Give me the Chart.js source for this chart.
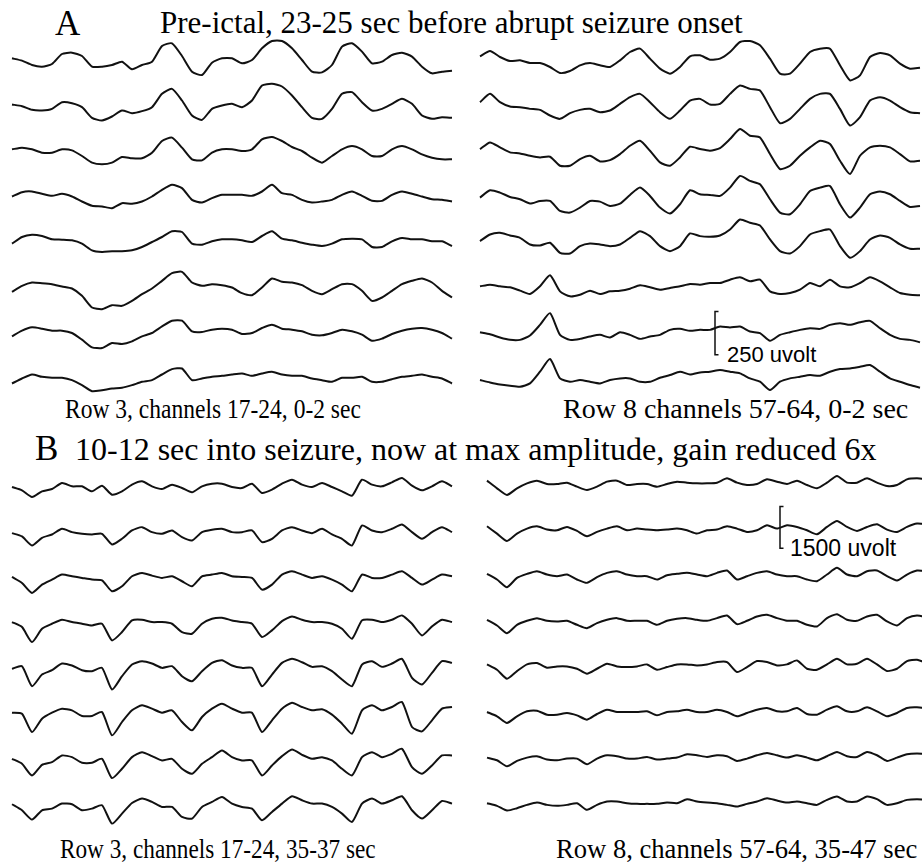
<!DOCTYPE html>
<html>
<head>
<meta charset="utf-8">
<script src="https://cdn.jsdelivr.net/npm/chart.js@4/dist/chart.umd.min.js"></script>
<style>
body { margin: 0; width: 922px; height: 865px; background: #fff; position: relative; overflow: hidden; }
canvas { position: absolute; }
.t { position: absolute; white-space: nowrap; color: #000; font-family: "Liberation Serif", "Times New Roman", serif; line-height: 1; transform-origin: 0 0; }
.s { position: absolute; white-space: nowrap; color: #000; font-family: "Liberation Sans", Arial, sans-serif; line-height: 1; }
</style>
</head>
<body>
<div class="t" style="left:55px;top:6px;font-size:35px">A</div>
<div class="t" style="left:160px;top:7px;font-size:31px">Pre-ictal, 23-25 sec before abrupt seizure onset</div>
<div class="t" style="left:65px;top:395px;font-size:28px;transform:scaleX(0.84)">Row 3, channels 17-24, 0-2 sec</div>
<div class="t" style="left:563px;top:395px;font-size:28px">Row 8 channels 57-64, 0-2 sec</div>
<div class="t" style="left:35px;top:431px;font-size:35px">B</div>
<div class="t" style="left:75px;top:433px;font-size:32px">10-12 sec into seizure, now at max amplitude, gain reduced 6x</div>
<div class="t" style="left:60px;top:835px;font-size:28px;transform:scaleX(0.83)">Row 3, channels 17-24, 35-37 sec</div>
<div class="t" style="left:556px;top:835px;font-size:28px;transform:scaleX(0.95)">Row 8, channels 57-64, 35-47 sec</div>
<div class="s" style="left:727px;top:344px;font-size:22px">250 uvolt</div>
<div class="s" style="left:790px;top:537px;font-size:23px">1500 uvolt</div>

<canvas id="aLeft"></canvas>
<canvas id="aRight"></canvas>
<canvas id="bLeft"></canvas>
<canvas id="bRight"></canvas>

<script>
// 45 samples per trace, deflection up is positive (1 unit = 1/3 px of the figure)
var channelsRow3 = ["17", "18", "19", "20", "21", "22", "23", "24"];
var channelsRow8 = ["57", "58", "59", "60", "61", "62", "63", "64"];

// A: pre-ictal, 0-2 sec
var preRow3 = [
    [5,-2,-15,-20,-12,18,22,12,-20,-20,-15,-5,-28,-15,-5,42,50,12,-35,-45,-8,5,5,-10,0,35,57,57,35,0,-35,-37,-15,40,50,25,-10,-5,15,22,10,-20,-40,-35,-32],
    [3,-2,-13,-15,-10,10,7,-5,-37,-45,-33,-15,-23,-17,-5,35,50,15,-30,-43,-10,0,5,-5,15,60,65,57,30,-5,-37,-40,-10,35,40,10,-15,-10,5,20,5,-30,-40,-35,-37],
    [5,10,5,-5,-5,5,2,-15,-35,-40,-35,-18,-22,-22,-5,30,40,10,-25,-28,-5,5,5,0,5,35,42,30,12,0,-20,-35,-15,5,15,5,-15,-15,5,15,5,-10,-20,-25,-25],
    [0,13,15,8,2,8,0,-15,-28,-30,-35,-20,-22,-15,0,20,35,25,-10,-18,-5,5,5,5,2,15,35,10,5,-10,-18,-15,-10,5,15,2,-13,-13,5,15,8,0,-8,-10,-15],
    [-5,15,22,18,8,7,5,-5,-25,-30,-28,-28,-25,-15,0,15,32,30,-5,-8,2,8,8,5,0,18,32,10,5,-2,-8,-12,-5,8,10,8,-15,-15,2,12,8,8,2,2,-12],
    [-13,5,15,13,10,3,-3,-25,-60,-65,-53,-55,-40,-20,-3,20,43,47,15,5,10,7,0,-17,-23,0,27,17,15,7,-10,-20,-5,10,10,-10,-40,-30,-10,10,20,27,15,-10,-30],
    [-10,7,17,13,7,7,0,-20,-43,-45,-30,-33,-25,-10,0,20,37,37,5,3,10,13,10,-3,0,15,25,13,10,5,-5,-7,0,10,5,-5,-23,-17,-3,7,13,15,10,0,-17],
    [-15,0,12,5,2,2,-5,-20,-38,-35,-30,-28,-20,-10,-5,12,28,30,-5,0,5,8,12,15,8,15,20,12,8,8,0,-5,-10,2,2,5,-10,-10,-2,5,8,12,5,0,-15]
];
var preRow8 = [
    [17,33,15,3,5,-3,-3,-15,-33,-27,-10,-3,-10,-15,5,30,40,10,-20,-35,-15,17,20,7,10,30,60,63,50,10,-35,-35,-5,30,40,40,-10,-55,-40,15,27,20,-5,-20,-17],
    [15,40,15,2,0,-5,-8,-25,-35,-18,-8,-5,-15,-10,10,30,40,15,-15,-35,-10,20,25,8,10,40,65,55,50,0,-48,-35,-5,25,40,40,-5,-55,-30,20,30,20,0,-15,-18],
    [10,30,15,0,-3,-10,-15,-13,-40,-40,-20,-10,-27,-23,-5,20,35,5,-30,-40,-15,17,10,5,13,40,70,50,45,-5,-50,-40,-10,15,35,25,-25,-65,-10,15,20,15,-5,-27,-25],
    [0,22,15,2,-5,-18,-10,-10,-40,-45,-30,-10,-12,-25,-18,8,30,5,-30,-48,-20,22,10,8,5,30,65,50,40,-5,-45,-50,-20,20,30,35,-20,-60,-30,10,18,10,-10,-28,-25],
    [5,25,30,22,15,-5,-8,0,-30,-32,-10,-2,-5,-10,-5,15,35,20,-10,-25,-10,28,20,18,22,40,70,60,52,10,-25,-32,-10,25,35,40,-10,-45,-25,10,22,15,-5,-18,-18],
    [5,10,5,2,-8,-18,5,38,-10,-25,-20,-8,-18,-10,-8,-2,8,2,-5,0,5,12,10,15,15,25,32,20,25,-10,-18,-15,-5,15,5,25,5,2,15,32,20,2,-15,-20,-22],
    [3,-3,-13,-20,-20,-7,25,60,-5,-20,-17,-10,-5,-13,3,-5,-17,-10,-5,10,13,7,10,10,20,17,20,5,0,-23,-5,3,10,15,13,25,30,25,33,37,15,-5,-17,-20,-27],
    [-5,-12,-18,-22,-25,-15,20,58,0,-10,-5,-10,-15,-5,0,0,-10,-10,2,10,20,12,18,20,25,20,15,0,-10,-35,-10,0,5,10,8,20,28,30,35,40,20,0,-10,-20,-28]
];

// B: 10-12 sec into seizure, gain reduced 6x
var ictalRow3 = [
    [3,-7,-27,-10,-3,15,5,5,-10,7,-20,-10,10,20,5,-3,10,0,-13,5,13,13,3,0,13,-15,-5,13,25,10,3,15,3,-10,-23,25,10,5,17,30,7,-7,5,20,5],
    [2,-8,-35,-12,-2,15,5,0,-2,0,-32,-15,10,20,5,0,10,-10,-20,5,12,15,5,5,10,-25,-15,10,20,10,2,15,-2,-15,-35,25,10,5,15,28,5,-15,5,20,5],
    [8,-10,-40,-15,0,15,10,5,0,-2,-35,-20,10,20,12,5,10,-5,-20,10,15,20,10,8,5,-30,-15,15,25,15,5,10,0,-15,-35,15,5,5,15,25,5,-15,0,15,10],
    [10,-5,-50,-10,5,17,10,5,0,5,-45,-20,15,17,10,10,5,-20,-25,5,20,23,15,10,5,-35,-15,13,27,17,10,10,5,-10,-40,15,17,10,17,30,5,-30,-3,17,10],
    [7,15,-45,-10,3,23,17,3,0,10,-55,-15,20,30,23,10,15,-15,-30,0,25,33,17,10,10,-45,-10,25,37,27,13,15,0,-25,-45,20,30,13,23,37,-20,-40,-5,30,25],
    [13,10,-45,-5,13,25,20,3,3,15,-55,-15,20,35,25,13,20,-15,-40,0,25,40,25,13,13,-45,-10,25,43,30,20,23,7,-20,-50,20,35,20,30,45,-30,-43,-10,25,30],
    [12,-3,-38,-6,2,22,17,0,0,12,-46,-18,17,32,20,7,12,-18,-33,-3,17,37,17,7,7,-38,-8,20,40,24,12,17,7,-18,-38,17,32,17,27,42,-13,-33,-8,22,22],
    [13,-5,-33,-5,0,15,13,-5,0,10,-45,-15,17,30,20,5,5,-25,-30,5,20,35,15,5,0,-35,-10,15,37,25,15,15,5,-15,-40,15,30,15,25,37,-5,-30,-5,23,15]
];
var ictalRow8 = [
    [10,-13,-33,-13,2,10,0,0,4,-8,-18,-8,7,10,-3,0,0,-8,0,7,4,2,2,4,17,4,-3,0,14,7,0,10,-3,-13,4,24,4,4,17,4,-6,-3,14,17,14],
    [10,-12,-34,-12,3,10,0,-2,8,-4,-20,-7,3,10,-2,3,0,-2,0,3,-2,-12,-2,0,10,3,-7,-2,13,3,13,8,-2,-14,8,26,8,-4,8,16,0,-7,8,18,16],
    [4,-13,-36,-8,4,12,2,-3,2,-13,-23,-6,7,12,2,-3,-3,-13,0,4,7,2,-3,7,14,-13,-3,7,12,2,-3,-3,-13,-18,2,22,2,-3,12,14,-3,-16,2,14,12],
    [3,-14,-37,-12,0,8,0,-2,0,-12,-22,-7,3,8,0,0,0,-12,0,6,8,3,0,8,16,-10,0,13,18,8,0,0,-12,-17,8,20,3,0,13,18,-2,-14,8,16,10],
    [6,-10,-37,-14,6,10,-4,0,0,-7,-22,-7,8,0,-2,0,6,-10,-2,6,6,3,6,13,13,-17,-2,16,13,3,6,18,-7,-10,6,23,6,8,23,6,-14,-7,16,20,10],
    [0,-13,-33,-13,2,4,-8,-8,-3,-10,-23,-6,7,0,0,0,2,-10,0,2,7,0,0,7,0,-13,-3,7,12,2,2,12,-6,-8,7,17,2,2,14,2,-13,-3,12,14,10],
    [0,-8,-26,-10,0,4,-6,-8,-3,-3,-20,-3,7,4,-3,-3,2,-6,-3,0,10,7,2,7,4,-10,-3,7,14,7,0,7,0,-8,4,17,4,2,17,7,-10,0,10,12,10],
    [0,-8,-22,-15,-5,2,-5,-8,-5,0,-20,-5,5,5,0,-2,-2,-2,2,0,12,5,2,0,-5,-10,-2,5,15,8,2,5,0,-5,10,20,5,5,20,12,-5,0,10,12,10]
];

// scale bars: 250 uvolt in A, 1500 uvolt in B (same length on paper)
var scaleBarA = {trace: 6, x: 23.5, up: 65, down: 65};
var scaleBarB = {trace: 1, x: 29.3, up: 69, down: 56};

function drawPanel(id, traces, names, xStart, xStep, yBase, ySpacing, top, height, bar) {
    var canvas = document.getElementById(id);
    canvas.width = Math.round(xStep * 46);
    canvas.height = height;
    canvas.style.left = (xStart - xStep) + "px";
    canvas.style.top = top + "px";

    var offsets = [];
    var datasets = [];
    for (var k = 0; k < traces.length; k++) {
        var offset = 3 * (top + height - (yBase + k * ySpacing));
        offsets.push(offset);
        datasets.push({
            label: "ch " + names[k],
            data: traces[k].map(function (v, i) { return {x: i, y: v + offset}; }),
            borderColor: "#111",
            borderWidth: 2,
            pointRadius: 0,
            tension: 0.2,
            fill: false
        });
    }
    if (bar) {
        var mid = offsets[bar.trace];
        datasets.push({
            label: "scale",
            data: [
                {x: bar.x + 0.35, y: mid + bar.up},
                {x: bar.x, y: mid + bar.up},
                {x: bar.x, y: mid - bar.down},
                {x: bar.x + 0.35, y: mid - bar.down}
            ],
            borderColor: "#111",
            borderWidth: 1.5,
            pointRadius: 0,
            tension: 0,
            fill: false
        });
    }

    return new Chart(canvas, {
        type: "line",
        data: {datasets: datasets},
        options: {
            responsive: false,
            animation: false,
            devicePixelRatio: 1,
            events: [],
            layout: {padding: 0},
            plugins: {legend: {display: false}, tooltip: {enabled: false}},
            scales: {
                x: {type: "linear", display: false, min: -1, max: 45},
                y: {display: false, min: 0, max: height * 3}
            }
        }
    });
}

drawPanel("aLeft", preRow3, channelsRow3, 12, 10, 60, 45.5, 25, 385, null);
drawPanel("aRight", preRow8, channelsRow8, 480, 10, 62, 45.2, 25, 385, scaleBarA);
drawPanel("bLeft", ictalRow3, channelsRow3, 12, 10, 488, 45.8, 450, 395, null);
drawPanel("bRight", ictalRow8, channelsRow8, 486.7, 10, 484, 45.6, 450, 395, scaleBarB);
</script>
</body>
</html>
